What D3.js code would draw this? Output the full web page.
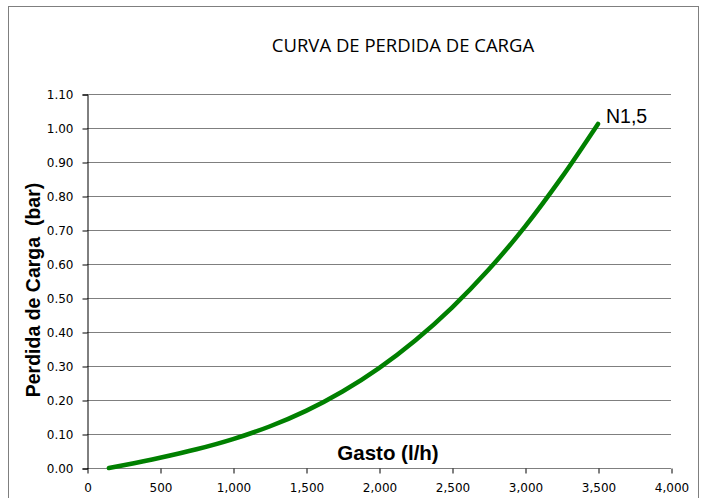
<!DOCTYPE html>
<html>
<head>
<meta charset="utf-8" />
<title>Curva de perdida de carga</title>
<style>
html, body {
    margin: 0px;
    padding: 0px;
    background: #fff;
}
.grid line {
    stroke: #7f7f7f;
}
</style>
</head>
<body>
<div id="chart"></div>
<script src="https://cdnjs.cloudflare.com/ajax/libs/d3/7.8.5/d3.min.js"></script>
<script>
// valores
var gasto   = [150, 250, 500, 750, 1000, 1250, 1500, 1750, 2000, 2250, 2500, 2750, 3000, 3250, 3500]
var perdida = [0.0, 0.008, 0.030, 0.055, 0.085, 0.122, 0.168, 0.225, 0.294, 0.376, 0.472, 0.583, 0.710, 0.854, 1.012]
var serieNombre = "N1,5"
var xTicks = [0, 500, 1000, 1500, 2000, 2500, 3000, 3500, 4000]
var yTicks = [0, 0.1, 0.2, 0.3, 0.4, 0.5, 0.6, 0.7, 0.8, 0.9, 1.0, 1.1]

!(function(){
    "use strict"

    var W = 707, H = 498
    var left = 87, right = 671, top = 94, bottom = 468

    var svg = d3.select("#chart").append("svg")
        .attr("width", W).attr("height", H)

    // marco exterior
    svg.append("rect")
        .attr("x", 8.5).attr("y", 6.5)
        .attr("width", 690).attr("height", 500)
        .attr("fill", "none").attr("stroke", "#7f7f7f")

    var x = d3.scaleLinear().domain([0, 4000]).range([left, right])
    var y = d3.scaleLinear().domain([0, 1.1]).range([bottom, top])

    // lineas de division
    svg.append("g").attr("class", "grid")
        .selectAll("line").data(yTicks).enter().append("line")
        .attr("x1", left).attr("x2", right)
        .attr("y1", function(d){ return Math.round(y(d)) + 0.5 })
        .attr("y2", function(d){ return Math.round(y(d)) + 0.5 })

    // eje y
    var yAxis = svg.append("g")
        .attr("transform", "translate(" + (left + 0.5) + ",0.5)")
        .call(d3.axisLeft(y).tickValues(yTicks).tickFormat(d3.format(".2f")).tickSize(5).tickPadding(9))
    yAxis.select(".domain").attr("stroke", "#000")
    yAxis.selectAll(".tick line").attr("stroke", "#000")
    yAxis.selectAll("text").attr("font-family", "DejaVu Sans").attr("font-size", 12).attr("fill", "#000")

    // eje x
    var xAxis = svg.append("g")
        .attr("transform", "translate(0.5," + (bottom + 0.5) + ")")
        .call(d3.axisBottom(x).tickValues(xTicks).tickFormat(d3.format(",")).tickSize(5).tickPadding(10))
    xAxis.select(".domain").remove()
    xAxis.selectAll(".tick line").attr("stroke", "#000")
    xAxis.selectAll("text").attr("font-family", "DejaVu Sans").attr("font-size", 12).attr("fill", "#000")

    // curva
    var datos = gasto.map(function(g, i){ return [g, perdida[i]] })
    var linea = d3.line()
        .x(function(d){ return x(d[0]) })
        .y(function(d){ return y(d[1]) })
        .curve(d3.curveCatmullRom)

    svg.append("path")
        .datum(datos)
        .attr("d", linea)
        .attr("fill", "none")
        .attr("stroke", "#008000")
        .attr("stroke-width", 4.5)
        .attr("stroke-linecap", "round")

    var ult = datos[datos.length - 1]
    svg.append("text")
        .attr("x", x(ult[0]) + 8).attr("y", y(ult[1]) - 1)
        .attr("font-family", "Liberation Sans").attr("font-size", 19.5)
        .text(serieNombre)

    // titulos
    svg.append("text")
        .attr("x", 403).attr("y", 52)
        .attr("text-anchor", "middle")
        .attr("font-family", "Open Sans").attr("font-size", 18.5)
        .text("CURVA DE PERDIDA DE CARGA")

    svg.append("text")
        .attr("x", 388).attr("y", 460)
        .attr("text-anchor", "middle")
        .attr("font-family", "Liberation Sans").attr("font-weight", "bold").attr("font-size", 20.5)
        .text("Gasto (l/h)")

    svg.append("text")
        .attr("transform", "translate(40,290) rotate(-90)")
        .attr("text-anchor", "middle")
        .attr("font-family", "Liberation Sans").attr("font-weight", "bold").attr("font-size", 19.5)
        .attr("xml:space", "preserve")
        .text("Perdida de Carga  (bar)")
}());
</script>
</body>
</html>
